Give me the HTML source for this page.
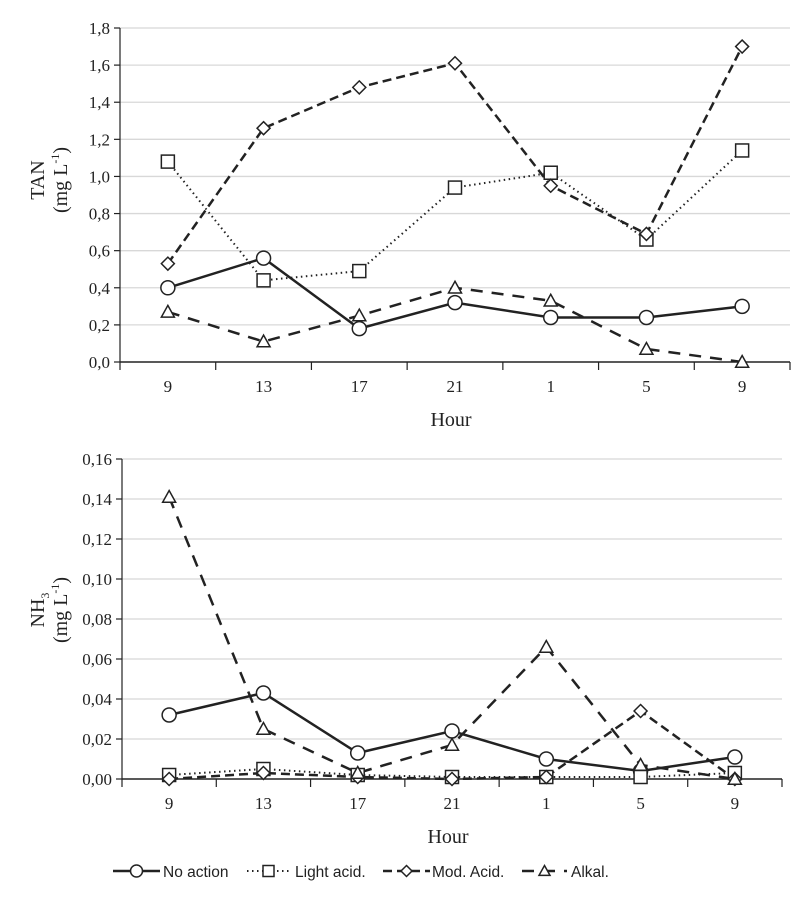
<!DOCTYPE html>
<html><head><meta charset="utf-8"><style>
body{margin:0;background:#fff}
svg{display:block}
.t{font-family:"Liberation Serif",serif;font-size:17px;fill:#222}
.tt{font-family:"Liberation Serif",serif;font-size:20px;fill:#222}
.l{font-family:"Liberation Sans",sans-serif;font-size:15.5px;fill:#222}
</style></head><body>
<svg id="c" width="797" height="900"></svg>
<script>
const hours = ["9","13","17","21","1","5","9"];
const tanNoAction = [0.40,0.56,0.18,0.32,0.24,0.24,0.30];
const tanLight = [1.08,0.44,0.49,0.94,1.02,0.66,1.14];
const tanMod = [0.53,1.26,1.48,1.61,0.95,0.69,1.70];
const tanAlk = [0.27,0.11,0.25,0.40,0.33,0.07,0.00];
const nh3NoAction = [0.032,0.043,0.013,0.024,0.010,0.004,0.011];
const nh3Light = [0.002,0.005,0.002,0.001,0.001,0.001,0.003];
const nh3Mod = [0.000,0.003,0.001,0.000,0.001,0.034,0.000];
const nh3Alk = [0.141,0.025,0.003,0.017,0.066,0.007,0.000];
const tanTicks = ["0,0","0,2","0,4","0,6","0,8","1,0","1,2","1,4","1,6","1,8"];
const nh3Ticks = ["0,00","0,02","0,04","0,06","0,08","0,10","0,12","0,14","0,16"];

const svg=document.getElementById('c');
const NS='http://www.w3.org/2000/svg';
function mk(tag,a,parent){const e=document.createElementNS(NS,tag);for(const k in a)e.setAttribute(k,a[k]);(parent||svg).appendChild(e);return e;}
const styles=[
 {dash:'',w:2.5,m:'circle'},
 {dash:'1.5 3.5',w:2,m:'square'},
 {dash:'9 5',w:2.5,m:'diamond'},
 {dash:'12 9',w:2.5,m:'triangle'}];
function marker(g,type,x,y,s){
 let e;
 if(type==='circle')e=mk('circle',{cx:x,cy:y,r:s,fill:'#fff',stroke:'#222','stroke-width':1.5},g);
 else if(type==='square')e=mk('rect',{x:x-s,y:y-s,width:2*s,height:2*s,fill:'#fff',stroke:'#222','stroke-width':1.5},g);
 else if(type==='diamond')e=mk('polygon',{points:`${x},${y-s} ${x+s},${y} ${x},${y+s} ${x-s},${y}`,fill:'#fff',stroke:'#222','stroke-width':1.5},g);
 else e=mk('polygon',{points:`${x},${y-s} ${x+s},${y+s*0.8} ${x-s},${y+s*0.8}`,fill:'#fff',stroke:'#222','stroke-width':1.5},g);
 return e;
}
function chart(o){
 const g=mk('g',{});
 
 
 const n=hours.length, bw=(o.x1-o.x0)/n;
 const xs=i=>o.x0+bw*(i+0.5);
 const ys=v=>o.yb-(v/o.max)*(o.yb-o.yt);
 o.ticks.forEach((t,i)=>{
  const v=o.max*i/(o.ticks.length-1), y=ys(v);
  if(i>0){const gl=mk('line',{x1:o.x0,x2:o.x1,y1:y,y2:y,stroke:'#d8d8d8','stroke-width':1.3},g);}
  mk('line',{x1:o.x0-6,x2:o.x0,y1:y,y2:y,stroke:'#222','stroke-width':1.2},g);
  const tx=mk('text',{x:o.x0-10,y:y+6,'text-anchor':'end',class:'t'},g);tx.textContent=t;
  
 });
 mk('line',{x1:o.x0,x2:o.x0,y1:o.yt,y2:o.yb,stroke:'#222','stroke-width':1.2},g);
 mk('line',{x1:o.x0,x2:o.x1,y1:o.yb,y2:o.yb,stroke:'#222','stroke-width':1.5},g);
 for(let i=0;i<=n;i++){const x=o.x0+bw*i;mk('line',{x1:x,x2:x,y1:o.yb,y2:o.yb+8,stroke:'#222','stroke-width':1.2},g);}
 hours.forEach((h,i)=>{const tx=mk('text',{x:xs(i),y:o.yb+30,'text-anchor':'middle',class:'t'},g);tx.textContent=h;
  });
 const xt=mk('text',{x:(o.x0+o.x1)/2-4,y:o.yb+64,'text-anchor':'middle',class:'tt'},g);xt.textContent='Hour';
 
 const yt=mk('text',{transform:`translate(${o.yx},${o.ymid}) rotate(-90)`,'text-anchor':'middle',class:'tt'},g);
 
 yt.innerHTML=o.ytitle;
 const yt2=mk('text',{transform:`translate(${o.yx+23},${o.ymid}) rotate(-90)`,'text-anchor':'middle',class:'tt'},g);
 yt2.innerHTML='(mg L<tspan font-size="12" dy="-8">-1</tspan><tspan dy="8">)</tspan>';
 
 o.series.forEach((s,si)=>{
  const st=styles[si];
  const p=mk('polyline',{points:s.map((v,i)=>xs(i)+','+ys(v)).join(' '),fill:'none',stroke:'#222','stroke-width':st.w,'stroke-dasharray':st.dash},g);
  
 });
 o.series.forEach((s,si)=>{
  s.forEach((v,i)=>{const m=marker(g,styles[si].m,xs(i),ys(v),si===0?7:6.5);
   });
 });
}
chart({name:'tan-chart',x0:120,x1:790,yt:28,yb:362,max:1.8,ticks:tanTicks,series:[tanNoAction,tanLight,tanMod,tanAlk],yx:44,ymid:180,ytitle:'TAN'});
chart({name:'nh3-chart',x0:122,x1:782,yt:459,yb:779,max:0.16,ticks:nh3Ticks,series:[nh3NoAction,nh3Light,nh3Mod,nh3Alk],yx:44,ymid:610,ytitle:'NH<tspan font-size="12" dy="5">3</tspan>'});
// legend
const leg=mk('g',{});


const items=[['No action',113,160,163],['Light acid.',247,290,295],['Mod. Acid.',383,430,432],['Alkal.',522,567,571]];
items.forEach((it,si)=>{
 const st=styles[si];
 const ln=mk('line',{x1:it[1],x2:it[2],y1:871,y2:871,stroke:'#222','stroke-width':st.w,'stroke-dasharray':st.dash},leg);
 marker(leg,st.m,(it[1]+it[2])/2,871,si===0?6:5.5);
 const tx=mk('text',{x:it[3],y:877,class:'l'},leg);tx.textContent=it[0];
 
});
</script>
</body></html>
